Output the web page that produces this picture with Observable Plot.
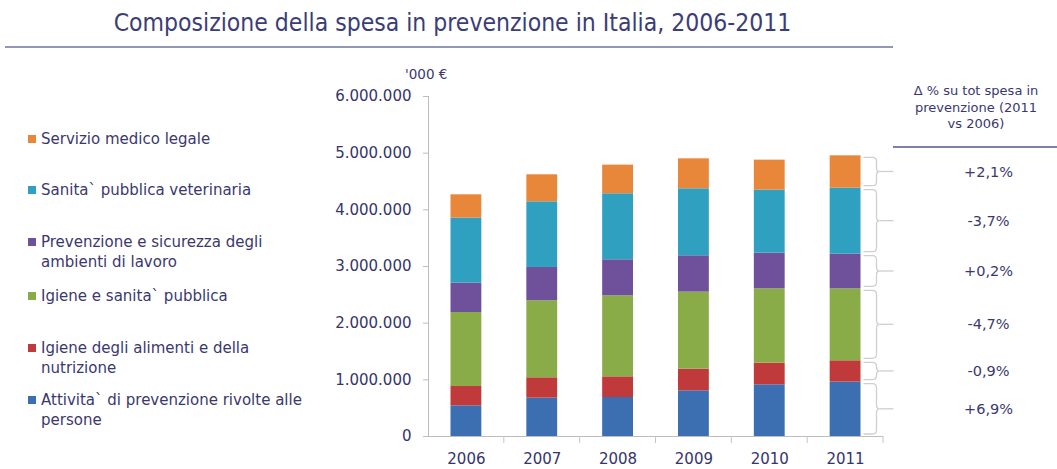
<!DOCTYPE html>
<html><head><meta charset="utf-8">
<script src="https://cdn.jsdelivr.net/npm/d3@7"></script>
<script src="https://cdn.jsdelivr.net/npm/@observablehq/plot@0.6"></script>
<style>
body{margin:0;background:#fff;}
#wrap{position:relative;width:1057px;height:469px;overflow:hidden;font-family:"DejaVu Sans",sans-serif;color:#3a3870;}
#wrap svg{position:absolute;left:0;top:0;}
.title{position:absolute;left:0;width:905px;top:8px;text-align:center;font-size:24.5px;font-family:"DejaVu Sans Condensed","DejaVu Sans",sans-serif;color:#3a3d78;}
.tline{position:absolute;left:5px;width:888px;top:46px;height:2px;background:#9496b6;}
.leg{position:absolute;left:28px;font-size:15px;line-height:20px;}
.leg .sw{position:absolute;left:0;top:6px;width:8px;height:8px;}
.leg .tx{position:absolute;left:13px;top:0;white-space:nowrap;}
.unit{position:absolute;left:405px;top:66px;font-size:13.5px;}
.hdr{position:absolute;left:895px;width:162px;top:83px;text-align:center;font-size:13px;line-height:16.5px;}
.hline{position:absolute;left:893px;width:164px;top:146px;height:2px;background:#7d80a8;}
</style></head><body><div id="wrap"></div>
<script>
const years = ["2006","2007","2008","2009","2010","2011"];
const categories = [
  "Attivita` di prevenzione rivolte alle persone",
  "Igiene degli alimenti e della nutrizione",
  "Igiene e sanita` pubblica",
  "Prevenzione e sicurezza degli ambienti di lavoro",
  "Sanita` pubblica veterinaria",
  "Servizio medico legale"
];
const legendLines = [
  ["Attivita` di prevenzione rivolte alle","persone"],
  ["Igiene degli alimenti e della","nutrizione"],
  ["Igiene e sanita` pubblica"],
  ["Prevenzione e sicurezza degli","ambienti di lavoro"],
  ["Sanita` pubblica veterinaria"],
  ["Servizio medico legale"]
];
// '000 €
const attivita    = [541000, 677000, 688000, 806000, 912000, 960000];
const alimenti    = [341000, 359000, 365000, 383000, 383000, 376000];
const igiene      = [1306000,1359000,1430000,1359000,1311000,1270000];
const lavoro      = [519000, 588000, 635000, 641000, 630000, 612000];
const veterinaria = [1147000,1158000,1165000,1182000,1112000,1165000];
const legale      = [411000, 477000, 506000, 529000, 529000, 570000];
const deltas = ["+6,9%","-0,9%","-4,7%","+0,2%","-3,7%","+2,1%"];
const yTicks = [0,1000000,2000000,3000000,4000000,5000000,6000000];
const colors = ["#3b6fb2","#c03a3b","#8aac48","#6f509a","#2fa0bf","#e8863a"];

const series = [attivita, alimenti, igiene, lavoro, veterinaria, legale];
const data = [];
series.forEach((vals, ci) => vals.forEach((v, yi) => data.push({year: years[yi], category: categories[ci], value: v})));
const last = data.filter(d => d.year === years[years.length - 1]);
const lastDelta = last.map((d, i) => ({...d, delta: deltas[i]}));

const fmt = d3.formatLocale({decimal: ",", thousands: ".", grouping: [3], currency: ["", " €"]}).format(",d");

const decor = (index, scales, values, dims) => {
  const x = scales.x, y = scales.y;
  const bw = x.bandwidth ? x.bandwidth() : (dims.width - dims.marginLeft - dims.marginRight) / years.length;
  const g = d3.create("svg:g");
  years.forEach(yr => {
    const xr = x(yr) + bw;
    g.append("line").attr("x1", xr).attr("x2", xr).attr("y1", y(0)).attr("y2", y(0) + 7)
      .attr("stroke", "#c4c4c4").attr("stroke-width", 1);
  });
  const barRight = x(years[years.length - 1]) + bw - 22.5;
  const xh = barRight + 3, xv = barRight + 16, xt = barRight + 33, r = 4;
  let cum = 0;
  last.forEach(d => {
    const yb = y(cum) - 2, yt = y(cum + d.value) + 2;
    cum += d.value;
    const ym = (yb + yt) / 2;
    const p = d3.path();
    p.moveTo(xh, yt); p.lineTo(xv - r, yt); p.quadraticCurveTo(xv, yt, xv, yt + r);
    p.lineTo(xv, ym - r); p.quadraticCurveTo(xv, ym, xv + 3, ym);
    p.quadraticCurveTo(xv, ym, xv, ym + r); p.lineTo(xv, yb - r);
    p.quadraticCurveTo(xv, yb, xv - r, yb); p.lineTo(xh, yb);
    g.append("path").attr("d", p.toString()).attr("fill", "none").attr("stroke", "#cfcfcf").attr("stroke-width", 1.3);
    g.append("line").attr("x1", xv + 3).attr("x2", xt).attr("y1", ym).attr("y2", ym)
      .attr("stroke", "#cfcfcf").attr("stroke-width", 1.3);
  });
  return g.node();
};

const chart = Plot.plot({
  width: 1057, height: 469,
  marginLeft: 428, marginRight: 174, marginTop: 96, marginBottom: 33,
  style: {fontFamily: '"DejaVu Sans",sans-serif', color: "#3a3870", background: "transparent"},
  x: {domain: years, padding: 0, round: false, label: null},
  y: {domain: [0, 6000000], label: null},
  color: {domain: categories, range: colors},
  marks: [
    Plot.barY(data, {x: "year", y: "value", fill: "category", order: categories, insetLeft: 22.5, insetRight: 22.5}),
    Plot.frame({anchor: "left", stroke: "#bdbdbd"}),
    Plot.ruleY([0], {stroke: "#bdbdbd"}),
    Plot.axisY(yTicks, {tickFormat: fmt, tickSize: 5, tickPadding: 12, fontSize: 15, stroke: "#bdbdbd", fill: "#35356b", label: null}),
    Plot.axisX({tickSize: 0, tickPadding: 17, fontSize: 15, fill: "#35356b", label: null}),
    decor,
    Plot.text(lastDelta, Plot.stackY({x: "year", y: "value", z: "category", text: "delta", dx: 143, fontSize: 14.5, fill: "#3a3870"}))
  ]
});

const wrap = document.getElementById("wrap");
wrap.appendChild(chart);
const add = (cls, html, style) => { const e = document.createElement("div"); e.className = cls; if (html != null) e.innerHTML = html; if (style) e.setAttribute("style", style); wrap.appendChild(e); return e; };
add("title", "Composizione della spesa in prevenzione in Italia, 2006-2011");
add("tline");
add("unit", "'000 €");
add("hdr", "Δ % su tot spesa in<br>prevenzione (2011<br>vs 2006)");
add("hline");
const legTops = [390, 338, 286, 232, 180, 129];
categories.forEach((c, i) => {
  const e = add("leg", null, "top:" + legTops[i] + "px");
  e.innerHTML = '<div class="sw" style="background:' + colors[i] + '"></div><div class="tx">' + legendLines[i].join("<br>") + "</div>";
});
</script></body></html>
